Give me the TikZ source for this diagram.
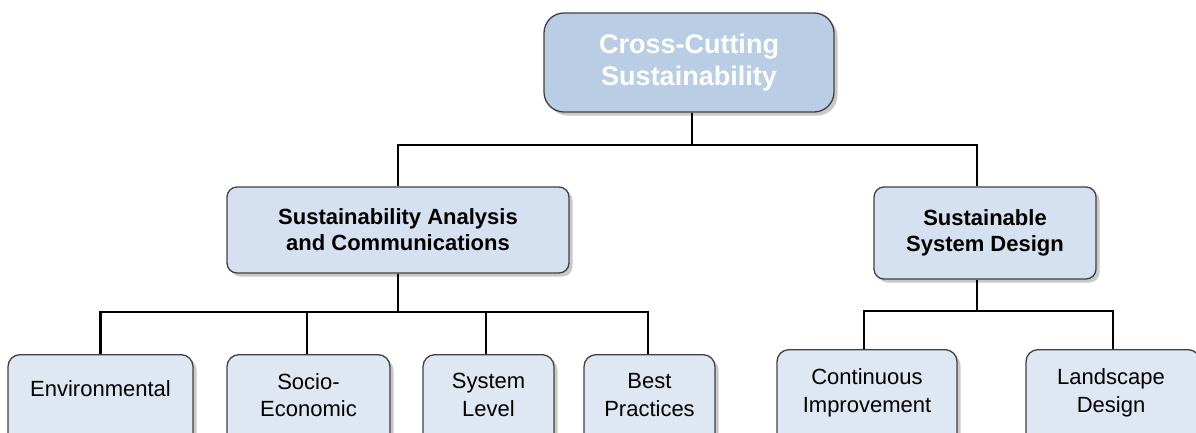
\documentclass[tikz,border=0pt]{standalone}
\usepackage{fontspec}
\setmainfont{Liberation Sans}
\usetikzlibrary{shadows,calc}
\definecolor{topfill}{RGB}{185,205,229}
\definecolor{midfill}{RGB}{213,225,240}
\definecolor{leaffill}{RGB}{223,231,243}
\definecolor{boxline}{RGB}{64,64,64}
\begin{document}
\begin{tikzpicture}[x=1pt,y=-1pt,
  box/.style={draw=boxline, line width=1.3pt, inner sep=0pt,
    drop shadow={shadow xshift=3.5pt, shadow yshift=-3.5pt, opacity=0.3, fill=black!70}},
  topbox/.style={box, fill=topfill, rounded corners=20pt, minimum width=290pt, minimum height=99pt,
    text=white, align=center, font=\fontsize{27}{32}\selectfont\bfseries},
  midbox/.style={box, fill=midfill, rounded corners=10pt, align=center,
    font=\fontsize{22}{26}\selectfont\bfseries},
  leafbox/.style={box, fill=leaffill, rounded corners=12pt, minimum height=100pt},
  leaftext/.style={align=center, inner sep=0pt, font=\fontsize{22}{27.5}\selectfont},
  conn/.style={line width=2.2pt, black}]
\useasboundingbox (0,0) rectangle (1196,432);
% top
\node[topbox] (top) at (689,62.5) {Cross-Cutting\\Sustainability};
% middle
\node[midbox, minimum width=342pt, minimum height=86pt] (mida) at (398,230) {Sustainability Analysis\\and Communications};
\node[midbox, minimum width=222pt, minimum height=92pt] (midb) at (985,233) {Sustainable\\System Design};
% leaves
\node[leafbox, minimum width=185pt, anchor=north] (env) at (100.5,354) {};
\node[leafbox, minimum width=163pt, anchor=north] (soc) at (308.5,354) {};
\node[leafbox, minimum width=131pt, anchor=north] (sys) at (488.5,354) {};
\node[leafbox, minimum width=131pt, anchor=north] (best) at (649.5,354) {};
\node[leafbox, minimum width=180pt, anchor=north] (cont) at (867,349) {};
\node[leafbox, minimum width=174pt, anchor=north] (land) at (1113,349) {};
\node[leaftext] (envt) at (100.5,389) {Environmental};
\node[leaftext] (soct) at (308.5,395) {Socio-\\Economic};
\node[leaftext] (syst) at (488.5,395) {System\\Level};
\node[leaftext] (bestt) at (649.5,395) {Best\\Practices};
\node[leaftext] (contt) at (867,393) {Continuous\\Improvement};
\node[leaftext] (landt) at (1111,393) {Landscape\\Design};
% connectors
\coordinate (tb) at ($(top.south)+(3,0)$);
\coordinate (bb) at ($(midb.north)+(-8,0)$);
\coordinate (bbs) at ($(midb.south)+(-8,0)$);
\draw[conn] (tb) -- ++(0,32.5) -| (mida.north);
\draw[conn] (tb) -- ++(0,32.5) -| (bb);
\draw[conn] (mida.south) -- ++(0,38) -| (env.north);
\draw[conn] (mida.south) -- ++(0,38) -| ($(soc.north)+(-1.5,0)$);
\draw[conn] (mida.south) -- ++(0,38) -| ($(sys.north)+(-2.5,0)$);
\draw[conn] (mida.south) -- ++(0,38) -| ($(best.north)+(-1.5,0)$);
\draw[conn] (bbs) -- ++(0,31) -| ($(cont.north)+(-3,0)$);
\draw[conn] (bbs) -- ++(0,31) -| (land.north);
\end{tikzpicture}
\end{document}
